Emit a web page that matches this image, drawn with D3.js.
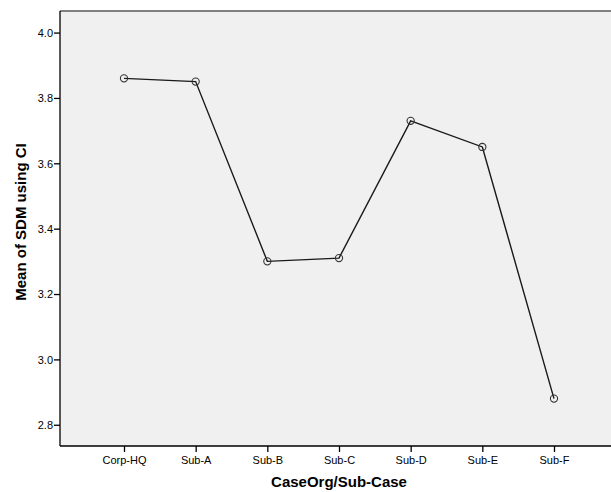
<!DOCTYPE html>
<html>
<head>
<meta charset="utf-8">
<script src="https://cdn.jsdelivr.net/npm/d3@7"></script>
<style>
  body { margin: 0; background: #fff; }
  svg { display: block; font-family: "Liberation Sans", Arial, sans-serif; }
</style>
</head>
<body>
<svg id="chart" width="611" height="492"></svg>
<script>
// Mean SDM score per organisation unit
const categories = ["Corp-HQ", "Sub-A", "Sub-B", "Sub-C", "Sub-D", "Sub-E", "Sub-F"];
const meanValues = [3.86, 3.85, 3.30, 3.31, 3.73, 3.65, 2.88];
const yTicks = [2.8, 3.0, 3.2, 3.4, 3.6, 3.8, 4.0];

const data = categories.map((c, i) => ({ cat: c, value: meanValues[i] }));

const svg = d3.select("#chart");
const plot = { left: 60, top: 11, right: 618, bottom: 446 };

const x = d3.scalePoint()
  .domain(categories)
  .range([124, 554]);

const y = d3.scaleLinear()
  .domain([2.735, 4.066])
  .range([plot.bottom, plot.top]);

// plot background
svg.append("rect")
  .attr("x", plot.left).attr("y", plot.top)
  .attr("width", plot.right - plot.left).attr("height", plot.bottom - plot.top)
  .attr("fill", "#f0f0f0");

// top frame line
svg.append("line")
  .attr("x1", plot.left).attr("x2", plot.right)
  .attr("y1", plot.top).attr("y2", plot.top)
  .attr("stroke", "#808080").attr("stroke-width", 2);

// y axis
const yAxis = svg.append("g")
  .attr("transform", `translate(${plot.left},0)`)
  .call(d3.axisLeft(y).tickValues(yTicks).tickFormat(d3.format(".1f")).tickSize(6).tickSizeOuter(0));
yAxis.select(".domain").remove();
yAxis.append("line")
  .attr("x1", 0).attr("x2", 0).attr("y1", plot.top).attr("y2", plot.bottom)
  .attr("stroke", "#000").attr("stroke-width", 1.3);
yAxis.selectAll(".tick line").attr("stroke", "#000").attr("stroke-width", 1.3);
yAxis.selectAll(".tick text")
  .attr("x", -7).attr("dy", "0.35em")
  .attr("font-size", 11).attr("fill", "#000")
  .attr("font-family", "Liberation Sans, Arial, sans-serif");

// x axis
const xAxis = svg.append("g")
  .attr("transform", `translate(0,${plot.bottom})`)
  .call(d3.axisBottom(x).tickSize(6).tickSizeOuter(0));
xAxis.select(".domain").remove();
xAxis.append("line")
  .attr("x1", plot.left).attr("x2", plot.right).attr("y1", 0).attr("y2", 0)
  .attr("stroke", "#000").attr("stroke-width", 1.3);
xAxis.selectAll(".tick line").attr("stroke", "#000").attr("stroke-width", 1.3);
xAxis.selectAll(".tick text")
  .attr("y", 10)
  .attr("font-size", 11).attr("fill", "#000")
  .attr("font-family", "Liberation Sans, Arial, sans-serif");

// line connecting the means
const line = d3.line()
  .x(d => x(d.cat))
  .y(d => y(d.value));

svg.append("path")
  .datum(data)
  .attr("d", line)
  .attr("fill", "none")
  .attr("stroke", "#1a1a1a")
  .attr("stroke-width", 1.4);

// point markers
svg.selectAll("circle.pt")
  .data(data)
  .enter().append("circle")
  .attr("class", "pt")
  .attr("cx", d => x(d.cat))
  .attr("cy", d => y(d.value))
  .attr("r", 3.6)
  .attr("fill", "none")
  .attr("stroke", "#333")
  .attr("stroke-width", 1.1);

// axis titles
svg.append("text")
  .attr("x", 339).attr("y", 487)
  .attr("text-anchor", "middle")
  .attr("font-size", 15).attr("font-weight", "bold")
  .text("CaseOrg/Sub-Case");

svg.append("text")
  .attr("transform", "translate(26,222) rotate(-90)")
  .attr("text-anchor", "middle")
  .attr("font-size", 15).attr("font-weight", "bold")
  .text("Mean of SDM using CI");
</script>
</body>
</html>
